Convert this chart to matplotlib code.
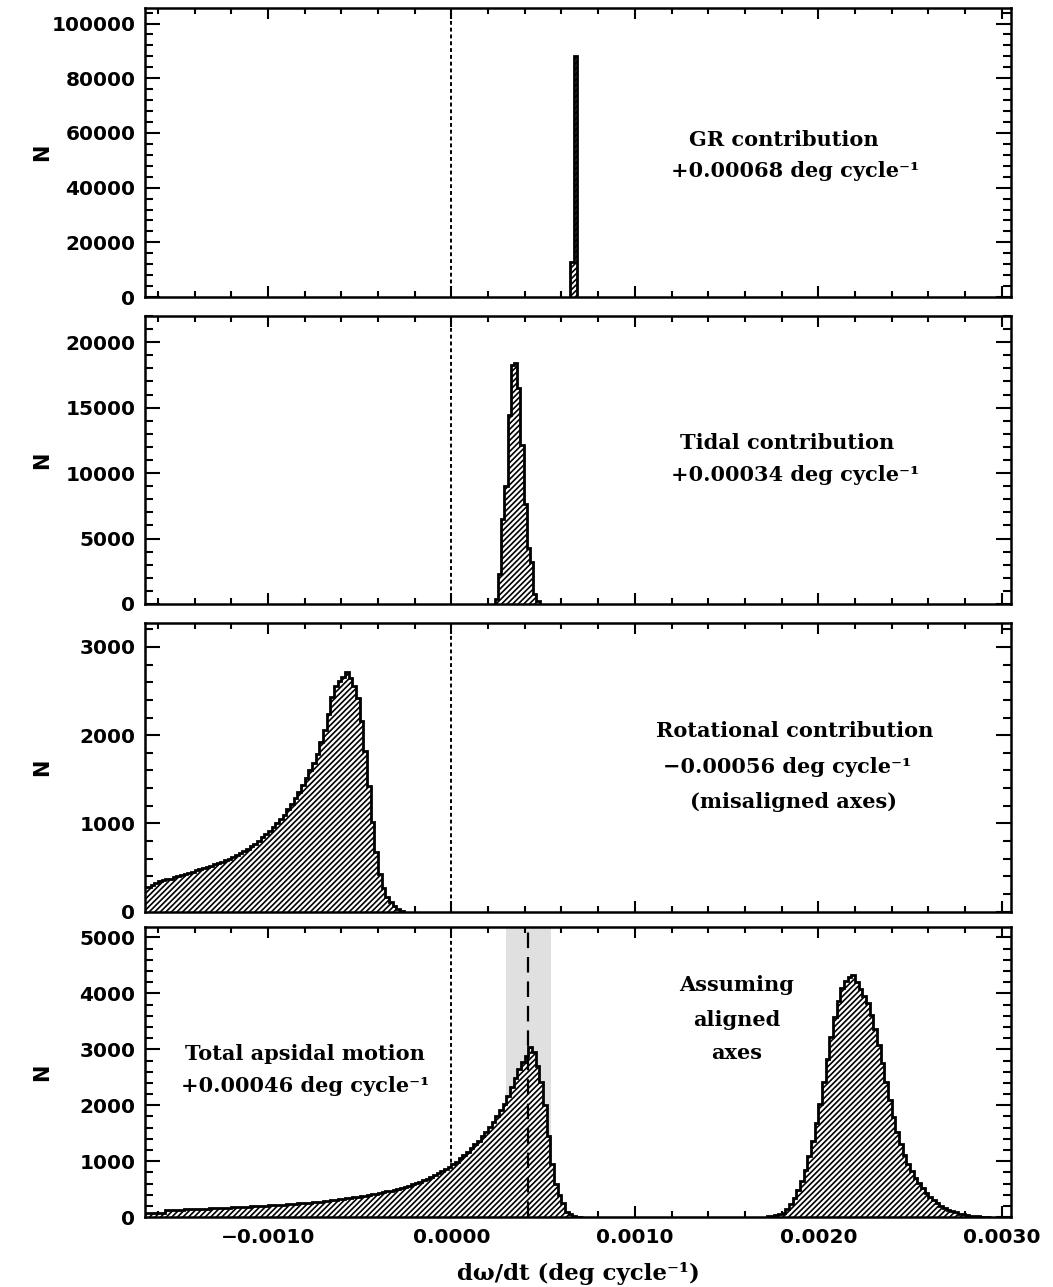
import numpy as np
import matplotlib
matplotlib.use("Agg")
import matplotlib.pyplot as plt
from matplotlib.ticker import MultipleLocator, FormatStrFormatter, FuncFormatter

plt.rcParams['hatch.linewidth'] = 1.2
plt.rcParams['font.family'] = ['DejaVu Sans']

BW = 0.00002  # histogram bin width (deg/cycle)

# --- GR contribution: two bins
gr_edges = [0.000646, 0.000667, 0.000687]
gr_counts = [12900, 88200]

# --- tidal contribution
tidal_start, tidal_bw = 0.000236, 0.0000175
tidal_counts = [380, 2280, 6460, 9000, 14450, 18250, 18380, 16480, 12170,
                7600, 4310, 3170, 760, 250]

# --- rotational contribution (misaligned), bins of BW starting at rot_start
rot_start = -0.00168
rot_counts = [280, 285, 300, 330, 350, 360, 365, 375, 390, 410,
              415, 430, 440, 455, 470, 480, 495, 505, 520, 535,
              550, 565, 585, 600, 620, 640, 660, 685, 710, 740,
              770, 805, 845, 880, 920, 960, 1005, 1050, 1100, 1160,
              1220, 1290, 1360, 1440, 1520, 1600, 1680, 1790, 1920, 2060,
              2240, 2430, 2560, 2610, 2660, 2720, 2650, 2560, 2420, 2160,
              1820, 1420, 1020, 680, 430, 270, 170, 105, 60, 30, 12]

# --- total apsidal motion (misaligned)
tot_start = -0.00168
tot_counts = [68, 70, 72, 74, 76, 80,
              125, 130, 132, 135, 138, 140, 142, 145, 147, 150, 152, 155,
              158, 160, 163, 167, 170, 174,
              178, 181, 184, 187, 190, 193, 196, 199, 203, 207,
              211, 215, 219, 223, 227, 231, 236, 241, 246, 251, 257, 263,
              269, 275, 281, 288, 295, 302,
              310, 318, 326, 335, 344, 353, 363,
              373, 384, 395, 407, 420, 433, 447, 461,
              476, 492, 509, 527, 546, 566,
              588, 611, 636, 662, 690, 720, 752, 786, 822, 860,
              900, 945, 995, 1050, 1110, 1170, 1235, 1300, 1370, 1445,
              1525, 1610, 1700, 1800, 1910, 2030, 2170, 2320, 2480, 2640,
              2780, 2880, 3040, 2950, 2700, 2420, 2000, 1450, 950, 600,
              400, 250, 100, 50, 25, 12, 5]

# --- total apsidal motion (aligned axes)
ali_start = 0.00172
ali_counts = [15, 30, 40, 50, 80, 140, 230, 340, 480, 640,
              850, 1100, 1370, 1680, 2030, 2420, 2820, 3220, 3580, 3870,
              4090, 4220, 4290, 4320, 4200, 4080, 3960, 3820, 3620, 3360,
              3080, 2750, 2420, 2090, 1790, 1520, 1300, 1120, 960, 830,
              710, 610, 520, 440, 370, 305, 250, 200, 160, 130,
              105, 85, 65, 50, 38, 28, 20, 15, 11, 8, 6]

median_total = 0.00042
band = (0.000296, 0.000541)

ylims = [105500, 22000, 3275, 5180]
ymajor = [20000, 5000, 1000, 1000]
yminor = [4000, 1000, 200, 200]
xlim = (-0.00167, 0.00305)


def edges_from(start, width, counts):
    return start + width * np.arange(len(counts) + 1)


fig = plt.figure(figsize=(10.53, 12.87), dpi=100)
left, width = 0.1377, 0.8224
bottoms = [0.7692, 0.5307, 0.2916, 0.0542]
heights = [0.2242, 0.2238, 0.2246, 0.2253]
axes = [fig.add_axes([left, b, width, h]) for b, h in zip(bottoms, heights)]

hist_kw = dict(fill=True, facecolor='white', edgecolor='black',
               hatch='//////', linewidth=2.0, zorder=3)

axes[0].stairs(gr_counts, gr_edges, **hist_kw)
axes[1].stairs(tidal_counts, edges_from(tidal_start, tidal_bw, tidal_counts), **hist_kw)
axes[2].stairs(rot_counts, edges_from(rot_start, BW, rot_counts), **hist_kw)
axes[3].axvspan(band[0], band[1], color='#e0e0e0', lw=0, zorder=1)
axes[3].stairs(tot_counts, edges_from(tot_start, BW, tot_counts), **hist_kw)
axes[3].stairs(ali_counts, edges_from(ali_start, BW, ali_counts), **hist_kw)
axes[3].axvline(median_total, color='black', lw=1.6, ls=(0, (7, 4)), zorder=4)

serif = dict(family='DejaVu Serif', fontweight='bold', fontsize=15,
             ha='center', va='center')


def tx(x, y, s):
    # x, y in pixel coords of the full figure
    fig.text(x / 1053, 1 - y / 1287, s, **serif)


tx(784, 140, "GR contribution")
tx(795, 171, "+0.00068 deg cycle⁻¹")
tx(787, 443, "Tidal contribution")
tx(795, 475, "+0.00034 deg cycle⁻¹")
tx(795, 731, "Rotational contribution")
tx(787, 767, "−0.00056 deg cycle⁻¹")
tx(793, 802, "(misaligned axes)")
tx(305, 1054, "Total apsidal motion")
tx(305, 1086, "+0.00046 deg cycle⁻¹")
tx(737, 985, "Assuming")
tx(737, 1020, "aligned")
tx(737, 1053, "axes")


def xfmt(v, pos):
    if abs(v) < 1e-12:
        v = 0.0
    return f"{v:.4f}".replace('-', '−')


for i, ax in enumerate(axes):
    ax.axvline(0, color='black', lw=1.4, ls=(0, (2, 1.5)), zorder=2)
    ax.set_xlim(*xlim)
    ax.set_ylim(0, ylims[i])
    ax.xaxis.set_major_locator(MultipleLocator(0.001))
    ax.xaxis.set_minor_locator(MultipleLocator(0.0002))
    ax.yaxis.set_major_locator(MultipleLocator(ymajor[i]))
    ax.yaxis.set_minor_locator(MultipleLocator(yminor[i]))
    ax.yaxis.set_major_formatter(FormatStrFormatter('%d'))
    ax.tick_params(which='both', direction='in', top=True, right=True, width=1.5)
    ax.tick_params(axis='x', which='major', length=8, pad=8)
    ax.tick_params(axis='x', which='minor', length=4)
    ax.tick_params(axis='y', which='major', length=11, pad=7)
    ax.tick_params(axis='y', which='minor', length=6)
    ax.tick_params(labelsize=14.5)
    for lab in ax.get_yticklabels():
        lab.set_fontweight('bold')
    for sp in ax.spines.values():
        sp.set_linewidth(1.8)
        sp.set_zorder(5)
    ax.set_ylabel("N", fontsize=15, fontweight='bold')
    ax.yaxis.set_label_coords(-0.107, 0.5)
    if i < 3:
        ax.tick_params(labelbottom=False)
    else:
        ax.xaxis.set_major_formatter(FuncFormatter(xfmt))
        for lab in ax.get_xticklabels():
            lab.set_fontweight('bold')
        ax.set_xlabel("dω/dt (deg cycle⁻¹)", family='DejaVu Serif',
                      fontsize=16.5, fontweight='bold')
        ax.xaxis.set_label_coords(0.5, -0.155)

fig.savefig("out.png", dpi=100)
